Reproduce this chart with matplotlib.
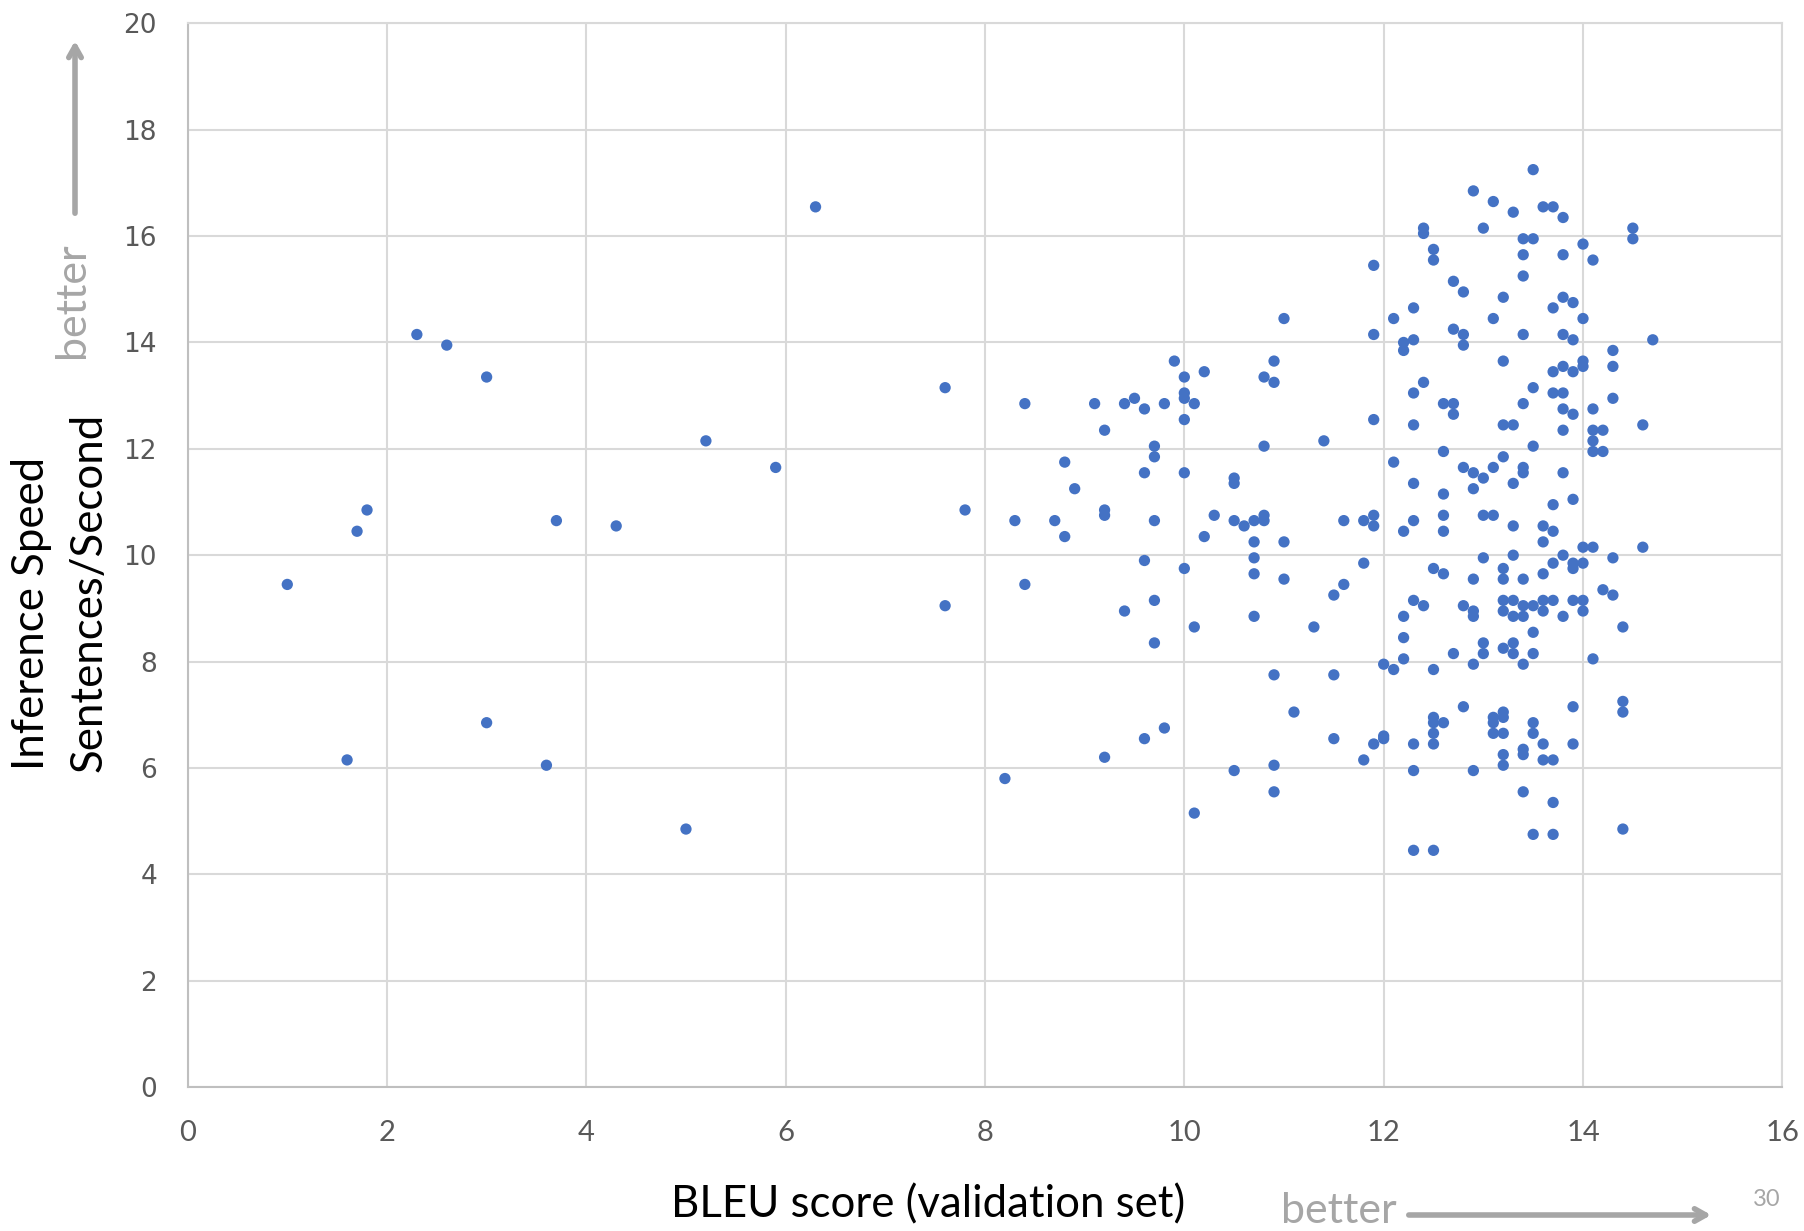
import matplotlib.pyplot as plt
from matplotlib.ticker import MultipleLocator

# BLEU score (x) and inference speed (y)
bleu = [1.0, 1.6, 1.7, 1.8, 2.3, 2.6, 3.0, 3.0, 3.6, 3.7, 4.3, 5.0, 5.2, 5.9, 6.3,
        7.6, 7.6, 7.8, 8.2, 8.3, 8.4, 8.4, 8.7, 8.8, 8.8, 8.9,
        9.1, 9.2, 9.2, 9.2, 9.2, 9.4, 9.4, 9.5, 9.6, 9.6, 9.6, 9.6,
        9.7, 9.7, 9.7, 9.7, 9.7, 9.8, 9.8, 9.9,
        10.0, 10.0, 10.0, 10.0, 10.0, 10.0, 10.1, 10.1, 10.1, 10.2, 10.2, 10.3,
        10.5, 10.5, 10.5, 10.5, 10.6, 10.7, 10.7, 10.7, 10.7, 10.7,
        10.8, 10.8, 10.8, 10.8, 10.9, 10.9, 10.9, 10.9, 10.9,
        11.0, 11.0, 11.0, 11.1, 11.3, 11.4, 11.5, 11.5, 11.5, 11.6, 11.6,
        11.8, 11.8, 11.8, 11.9, 11.9, 11.9, 11.9, 11.9, 11.9,
        12.0, 12.0, 12.0, 12.1, 12.1, 12.1,
        12.2, 12.2, 12.2, 12.2, 12.2, 12.2,
        12.3, 12.3, 12.3, 12.3, 12.3, 12.3, 12.3, 12.3, 12.3, 12.3,
        12.4, 12.4, 12.4, 12.4,
        12.5, 12.5, 12.5, 12.5, 12.5, 12.5, 12.5, 12.5, 12.5,
        12.6, 12.6, 12.6, 12.6, 12.6, 12.6, 12.6,
        12.7, 12.7, 12.7, 12.7, 12.7,
        12.8, 12.8, 12.8, 12.8, 12.8, 12.8,
        12.9, 12.9, 12.9, 12.9, 12.9, 12.9, 12.9, 12.9,
        13.0, 13.0, 13.0, 13.0, 13.0, 13.0,
        13.1, 13.1, 13.1, 13.1, 13.1, 13.1, 13.1,
        13.2, 13.2, 13.2, 13.2, 13.2, 13.2, 13.2, 13.2, 13.2, 13.2, 13.2, 13.2, 13.2, 13.2,
        13.3, 13.3, 13.3, 13.3, 13.3, 13.3, 13.3, 13.3, 13.3,
        13.4, 13.4, 13.4, 13.4, 13.4, 13.4, 13.4, 13.4, 13.4, 13.4, 13.4, 13.4, 13.4, 13.4,
        13.5, 13.5, 13.5, 13.5, 13.5, 13.5, 13.5, 13.5, 13.5, 13.5,
        13.6, 13.6, 13.6, 13.6, 13.6, 13.6, 13.6, 13.6,
        13.7, 13.7, 13.7, 13.7, 13.7, 13.7, 13.7, 13.7, 13.7, 13.7, 13.7,
        13.8, 13.8, 13.8, 13.8, 13.8, 13.8, 13.8, 13.8, 13.8, 13.8, 13.8,
        13.9, 13.9, 13.9, 13.9, 13.9, 13.9, 13.9, 13.9, 13.9, 13.9,
        14.0, 14.0, 14.0, 14.0, 14.0, 14.0, 14.0, 14.0,
        14.1, 14.1, 14.1, 14.1, 14.1, 14.1, 14.1,
        14.2, 14.2, 14.2, 14.3, 14.3, 14.3, 14.3, 14.3,
        14.4, 14.4, 14.4, 14.4, 14.5, 14.5, 14.6, 14.6, 14.7]

speed = [9.45, 6.15, 10.45, 10.85, 14.15, 13.95, 13.35, 6.85, 6.05, 10.65, 10.55, 4.85, 12.15, 11.65, 16.55,
         13.15, 9.05, 10.85, 5.8, 10.65, 12.85, 9.45, 10.65, 11.75, 10.35, 11.25,
         12.85, 12.35, 10.85, 10.75, 6.2, 8.95, 12.85, 12.95, 12.75, 11.55, 9.9, 6.55,
         12.05, 11.85, 10.65, 9.15, 8.35, 12.85, 6.75, 13.65,
         13.35, 13.05, 12.95, 12.55, 11.55, 9.75, 12.85, 8.65, 5.15, 13.45, 10.35, 10.75,
         11.45, 11.35, 10.65, 5.95, 10.55, 10.65, 10.25, 9.95, 9.65, 8.85,
         13.35, 12.05, 10.75, 10.65, 13.65, 13.25, 7.75, 6.05, 5.55,
         14.45, 10.25, 9.55, 7.05, 8.65, 12.15, 6.55, 7.75, 9.25, 10.65, 9.45,
         6.15, 9.85, 10.65, 15.45, 14.15, 12.55, 10.75, 10.55, 6.45,
         7.95, 6.6, 6.55, 14.45, 11.75, 7.85,
         14.0, 13.85, 10.45, 8.85, 8.45, 8.05,
         14.65, 14.05, 13.05, 12.45, 11.35, 10.65, 9.15, 6.45, 5.95, 4.45,
         16.15, 16.05, 13.25, 9.05,
         15.75, 15.55, 9.75, 7.85, 6.95, 6.85, 6.65, 6.45, 4.45,
         12.85, 11.95, 11.15, 10.75, 10.45, 9.65, 6.85,
         15.15, 14.25, 12.85, 12.65, 8.15,
         14.95, 14.15, 13.95, 11.65, 9.05, 7.15,
         16.85, 11.55, 11.25, 9.55, 8.95, 8.85, 7.95, 5.95,
         16.15, 11.45, 10.75, 9.95, 8.35, 8.15,
         16.65, 14.45, 11.65, 10.75, 6.95, 6.85, 6.65,
         14.85, 13.65, 12.45, 11.85, 9.75, 9.55, 9.15, 8.95, 8.25, 7.05, 6.95, 6.65, 6.25, 6.05,
         16.45, 12.45, 11.35, 10.55, 10.0, 9.15, 8.85, 8.35, 8.15,
         15.95, 15.65, 15.25, 14.15, 12.85, 11.65, 11.55, 9.55, 9.05, 8.85, 7.95, 6.35, 6.25, 5.55,
         17.25, 15.95, 13.15, 12.05, 9.05, 8.55, 8.15, 6.85, 6.65, 4.75,
         16.55, 10.55, 10.25, 9.65, 9.15, 8.95, 6.45, 6.15,
         16.55, 14.65, 13.45, 13.05, 10.95, 10.45, 9.85, 9.15, 6.15, 5.35, 4.75,
         16.35, 15.65, 14.85, 14.15, 13.55, 13.05, 12.75, 12.35, 11.55, 10.0, 8.85,
         14.75, 14.05, 13.45, 12.65, 11.05, 9.85, 9.75, 9.15, 7.15, 6.45,
         15.85, 14.45, 13.65, 13.55, 10.15, 9.85, 9.15, 8.95,
         15.55, 12.75, 12.35, 12.15, 11.95, 10.15, 8.05,
         12.35, 11.95, 9.35, 13.85, 13.55, 12.95, 9.95, 9.25,
         8.65, 7.25, 7.05, 4.85, 16.15, 15.95, 12.45, 10.15, 14.05]

tick_grey = '#595959'
hint = '#a6a6a6'
narrow = ['Lato', 'DejaVu Sans']

fig = plt.figure(figsize=(18.04, 12.31), dpi=100)
ax = fig.add_axes([0.104, 0.117, 0.884, 0.864])

ax.scatter(bleu, speed, s=66, color='#4472C4', edgecolors='none', zorder=3)

ax.set_xlim(0, 16)
ax.set_ylim(0, 20)
ax.xaxis.set_major_locator(MultipleLocator(2))
ax.yaxis.set_major_locator(MultipleLocator(2))
ax.grid(True, color='#d9d9d9', linewidth=1.5, zorder=0)
for sp in ax.spines.values():
    sp.set_color('#d9d9d9')
    sp.set_linewidth(1.5)
ax.spines['left'].set_color('#bfbfbf')
ax.spines['bottom'].set_color('#bfbfbf')
ax.tick_params(axis='y', length=0, labelsize=19, labelcolor=tick_grey, pad=22)
ax.tick_params(axis='x', length=0, labelsize=21, labelcolor=tick_grey, pad=24)
for lab in ax.get_xticklabels():
    lab.set_fontfamily(narrow)
for lab in ax.get_yticklabels():
    lab.set_fontfamily('DejaVu Sans')

# axis titles
fig.text(32 / 1804, 1 - 613 / 1231, 'Inference Speed', rotation=90, ha='center', va='center',
         fontsize=31.5, family=narrow)
fig.text(89 / 1804, 1 - 592 / 1231, 'Sentences/Second', rotation=90, ha='center', va='center',
         fontsize=31.5, family=narrow)
fig.text(928 / 1804, 1 - 1205 / 1231, 'BLEU score (validation set)', ha='center', va='center',
         fontsize=31.5, family=narrow)

# "better" hints with arrows
fig.text(72 / 1804, 1 - 300 / 1231, 'better', rotation=90, ha='center', va='center',
         fontsize=31, color=hint, family=narrow)
fig.text(1339 / 1804, 1 - 1211 / 1231, 'better', ha='center', va='center',
         fontsize=31, color=hint, family=narrow)
fig.text(1767 / 1804, 1 - 1200 / 1231, '30', ha='center', va='center',
         fontsize=17, color=hint, family=narrow)
fig.add_artist(plt.Annotation('', xy=(75 / 1804, 1 - 38 / 1231), xytext=(75 / 1804, 1 - 216 / 1231),
                              xycoords='figure fraction', textcoords='figure fraction',
                              arrowprops=dict(arrowstyle='->,head_length=0.8,head_width=0.45',
                                              color=hint, lw=4)))
fig.add_artist(plt.Annotation('', xy=(1714 / 1804, 1 - 1215 / 1231), xytext=(1406 / 1804, 1 - 1215 / 1231),
                              xycoords='figure fraction', textcoords='figure fraction',
                              arrowprops=dict(arrowstyle='->,head_length=0.8,head_width=0.45',
                                              color=hint, lw=4)))

plt.savefig('out.png', dpi=100)
